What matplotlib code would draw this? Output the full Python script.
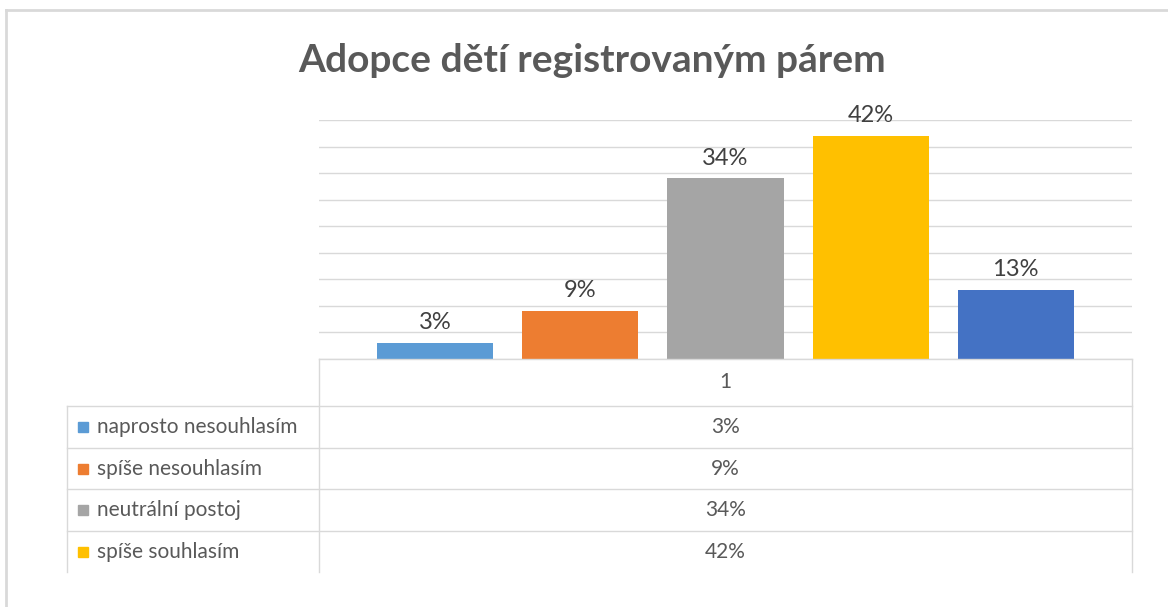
import matplotlib.pyplot as plt
from matplotlib.lines import Line2D
from matplotlib.patches import Rectangle

W, H = 1168, 607

title = "Adopce dětí registrovaným párem"
categories = ["naprosto nesouhlasím", "spíše nesouhlasím", "neutrální postoj",
              "spíše souhlasím", "naprosto souhlasím"]
values = [3, 9, 34, 42, 13]
colors = ["#5B9BD5", "#ED7D31", "#A5A5A5", "#FFC000", "#4472C4"]
header = "1"
shown_rows = 4  # the table is cut off after the fourth row

plt.rcParams['font.family'] = ['Lato', 'DejaVu Sans']
GRID = "#d9d9d9"
TXT = "#595959"


def fx(px):
    return px / W


def fy(py):
    return 1 - py / H


def line(x0, y0, x1, y1, lw=1.0, color=GRID):
    fig.add_artist(Line2D([fx(x0), fx(x1)], [fy(y0), fy(y1)],
                          transform=fig.transFigure, color=color, lw=lw))


fig = plt.figure(figsize=(W / 100, H / 100), dpi=100)

# outer chart border (only top and left visible)
line(6, 10, W, 10, lw=2)
line(6, 10, 6, H, lw=2)

fig.text(fx(592), fy(60), title, ha='center', va='center', fontsize=28,
         fontweight='bold', color=TXT)

left, right, top, base = 319, 1132, 120, 359
ax = fig.add_axes([fx(left), fy(base), (right - left) / W, (base - top) / H])
pos = [i - (len(values) - 1) / 2 for i in range(len(values))]
ax.bar(pos, values, width=0.8, color=colors, zorder=3)
ax.set_xlim(-2.803, 2.803)
ax.set_ylim(0, 45)
ax.set_yticks(range(0, 46, 5))
ax.set_xticks([])
ax.tick_params(left=False, labelleft=False)
ax.grid(axis='y', color=GRID, lw=1, zorder=0)
for s in ax.spines.values():
    s.set_visible(False)
for x, v in zip(pos, values):
    ax.annotate(f"{v}%", (x, v), xytext=(0, 7), textcoords='offset points',
                ha='center', va='bottom', fontsize=17, color="#404040")

# data table
row_top = [406, 448, 489, 531]
row_h = 41.5
bottom = 572
line(left, base, right, base)
for y in row_top:
    line(67, y, right, y)
line(left, base, left, bottom)
line(right, base, right, bottom)
line(67, row_top[0], 67, bottom)

mid = (left + right) / 2
fig.text(fx(mid), fy((base + row_top[0]) / 2), header, ha='center', va='center',
         fontsize=15, color=TXT)
for i in range(shown_rows):
    yc = row_top[i] + row_h / 2
    fig.add_artist(Rectangle((fx(78), fy(yc + 5)), 10 / W, 10 / H,
                             transform=fig.transFigure, color=colors[i]))
    fig.text(fx(97), fy(yc), categories[i], ha='left', va='center',
             fontsize=15, color=TXT)
    fig.text(fx(mid), fy(yc), f"{values[i]}%", ha='center', va='center',
             fontsize=15, color=TXT)

fig.savefig("out.png", dpi=100)
